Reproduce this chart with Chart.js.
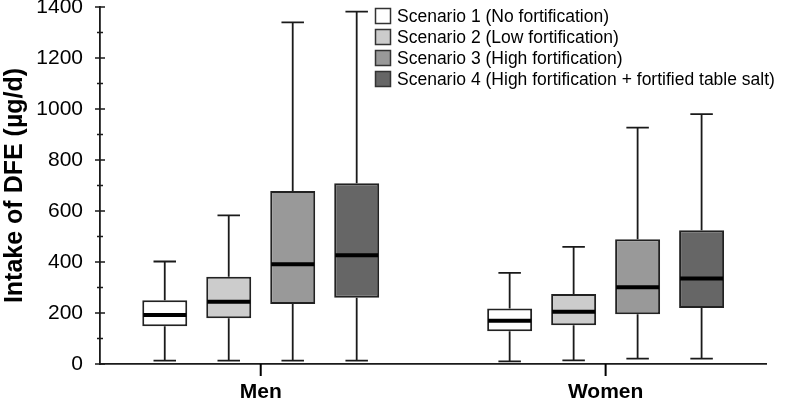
<!DOCTYPE html>
<html>
<head>
<meta charset="utf-8">
<script src="https://cdn.jsdelivr.net/npm/chart.js@4.4.1/dist/chart.umd.min.js"></script>
<style>
  html, body { margin: 0; padding: 0; background: #ffffff; }
  #wrap { width: 786px; height: 401px; position: relative; }
</style>
</head>
<body>
<div id="wrap"><canvas id="c" width="786" height="401"></canvas></div>
<script>
// ---------- data ----------
const categories = ['Men', 'Women'];
const scenarioLabels = [
  'Scenario 1 (No fortification)',
  'Scenario 2 (Low fortification)',
  'Scenario 3 (High fortification)',
  'Scenario 4 (High fortification + fortified table salt)'
];
const scenarioColors = ['#ffffff', '#cccccc', '#999999', '#666666'];
// each row = one scenario, values for [Men, Women]
const minVals    = [[13, 10], [13, 14], [13, 21], [13, 21]];
const q1Vals     = [[148, 128], [179, 152], [235, 195], [260, 220]];
const medianVals = [[192, 170], [244, 205], [391, 301], [426, 335]];
const q3Vals     = [[250, 218], [342, 275], [678, 489], [709, 525]];
const maxVals    = [[402, 357], [583, 459], [1340, 927], [1382, 980]];
const yTickValues = [0, 200, 400, 600, 800, 1000, 1200, 1400];
const yMinorTickValues = [100, 300, 500, 700, 900, 1100, 1300];
const yAxisTitle = 'Intake of DFE (\u00b5g/d)';

const datasets = scenarioLabels.map((label, d) => ({
  label: label,
  data: categories.map((c, i) => ({ x: i, y: [q1Vals[d][i], q3Vals[d][i]] })),
  backgroundColor: scenarioColors[d],
  borderColor: '#222222',
  borderWidth: 2,
  borderSkipped: false,
  categoryPercentage: 0.742,
  barPercentage: 0.703
}));

const INK = '#1a1a1a';
const FONT = '"Liberation Sans", Arial, sans-serif';

// whiskers behind boxes, medians on top
const boxPlotPlugin = {
  id: 'boxPlot',
  beforeDatasetsDraw(chart) {
    const ctx = chart.ctx, ys = chart.scales.y;
    ctx.save();
    ctx.strokeStyle = INK;
    ctx.lineWidth = 1.8;
    chart.data.datasets.forEach((ds, d) => {
      chart.getDatasetMeta(d).data.forEach((bar, i) => {
        const x = bar.x, half = bar.width / 4;
        const yMax = ys.getPixelForValue(maxVals[d][i]);
        const yMin = ys.getPixelForValue(minVals[d][i]);
        const yQ1 = ys.getPixelForValue(q1Vals[d][i]);
        const yQ3 = ys.getPixelForValue(q3Vals[d][i]);
        ctx.beginPath();
        ctx.moveTo(x, yQ3); ctx.lineTo(x, yMax);
        ctx.moveTo(x - half, yMax); ctx.lineTo(x + half, yMax);
        ctx.moveTo(x, yQ1); ctx.lineTo(x, yMin);
        ctx.moveTo(x - half, yMin); ctx.lineTo(x + half, yMin);
        ctx.stroke();
      });
    });
    ctx.restore();
  },
  afterDatasetsDraw(chart) {
    const ctx = chart.ctx, ys = chart.scales.y;
    ctx.save();
    ctx.strokeStyle = '#000000';
    ctx.lineWidth = 4;
    chart.data.datasets.forEach((ds, d) => {
      chart.getDatasetMeta(d).data.forEach((bar, i) => {
        const yMed = ys.getPixelForValue(medianVals[d][i]);
        ctx.beginPath();
        ctx.moveTo(bar.x - bar.width / 2 + 1, yMed);
        ctx.lineTo(bar.x + bar.width / 2 - 1, yMed);
        ctx.stroke();
      });
    });
    ctx.restore();
  }
};

// axis tick marks: y ticks cross the axis line, x ticks hang below
const tickPlugin = {
  id: 'axisTicks',
  afterDraw(chart) {
    const ctx = chart.ctx, ys = chart.scales.y, xs = chart.scales.x;
    const x0 = chart.chartArea.left, y0 = chart.chartArea.bottom;
    ctx.save();
    ctx.strokeStyle = INK;
    ctx.lineWidth = 1.6;
    ctx.beginPath();
    yTickValues.forEach(v => {
      const y = ys.getPixelForValue(v);
      ctx.moveTo(x0 - 5, y); ctx.lineTo(x0 + 5, y);
    });
    yMinorTickValues.forEach(v => {
      const y = ys.getPixelForValue(v);
      ctx.moveTo(x0 - 3, y); ctx.lineTo(x0 + 3, y);
    });
    ctx.stroke();
    ctx.strokeStyle = '#000000';
    ctx.lineWidth = 2;
    ctx.beginPath();
    categories.forEach((c, i) => {
      const x = xs.getPixelForValue(i);
      ctx.moveTo(x, y0); ctx.lineTo(x, y0 + 12);
    });
    ctx.stroke();
    ctx.restore();
  }
};

// legend drawn inside the plot area
const legendPlugin = {
  id: 'insideLegend',
  afterDraw(chart) {
    const ctx = chart.ctx;
    const bx = 375, by = 8, size = 16, pitch = 21;
    ctx.save();
    ctx.font = '17.5px ' + FONT;
    ctx.textBaseline = 'middle';
    ctx.textAlign = 'left';
    chart.data.datasets.forEach((ds, d) => {
      const y = by + d * pitch;
      ctx.fillStyle = ds.backgroundColor;
      ctx.fillRect(bx, y, size, size);
      ctx.strokeStyle = '#333333';
      ctx.lineWidth = 1.5;
      ctx.strokeRect(bx + 0.5, y + 0.5, size - 1, size - 1);
      ctx.fillStyle = '#000000';
      ctx.fillText(ds.label, bx + size + 6, y + size / 2 + 1);
    });
    ctx.restore();
  }
};

new Chart(document.getElementById('c'), {
  type: 'bar',
  data: { datasets: datasets },
  options: {
    responsive: false,
    animation: false,
    devicePixelRatio: 1,
    layout: { padding: { top: 7, right: 20, left: 0, bottom: 0 } },
    plugins: {
      legend: { display: false },
      tooltip: { enabled: false }
    },
    scales: {
      x: {
        type: 'linear',
        min: -0.466,
        max: 1.465,
        offset: false,
        afterBuildTicks: (scale) => { scale.ticks = categories.map((c, i) => ({ value: i })); },
        afterFit: (scale) => { scale.height = 37; scale.paddingLeft = 0; scale.paddingRight = 0; },
        grid: {
          display: false,
          offset: false,
          drawOnChartArea: false,
          drawTicks: true,
          tickLength: 11
        },
        border: { display: true, color: INK, width: 1.8 },
        ticks: {
          autoSkip: false,
          maxRotation: 0,
          padding: 5,
          color: '#000000',
          font: { family: FONT, size: 21, weight: 'bold' },
          callback: (v) => categories[v] !== undefined ? categories[v] : ''
        }
      },
      y: {
        type: 'linear',
        min: 0,
        max: 1400,
        afterBuildTicks: (scale) => { scale.ticks = yTickValues.map(v => ({ value: v })); },
        afterFit: (scale) => { scale.width = 100; scale.paddingTop = 0; scale.paddingBottom = 0; },
        grid: { display: false, drawTicks: false },
        border: { display: true, color: INK, width: 1.8 },
        ticks: {
          padding: 17,
          color: '#000000',
          font: { family: FONT, size: 21 },
          callback: (v) => String(v)
        },
        title: {
          display: true,
          text: yAxisTitle,
          color: '#000000',
          padding: { top: 0, bottom: 0 },
          font: { family: FONT, size: 25, weight: 'bold' }
        }
      }
    }
  },
  plugins: [boxPlotPlugin, tickPlugin, legendPlugin]
});
</script>
</body>
</html>
